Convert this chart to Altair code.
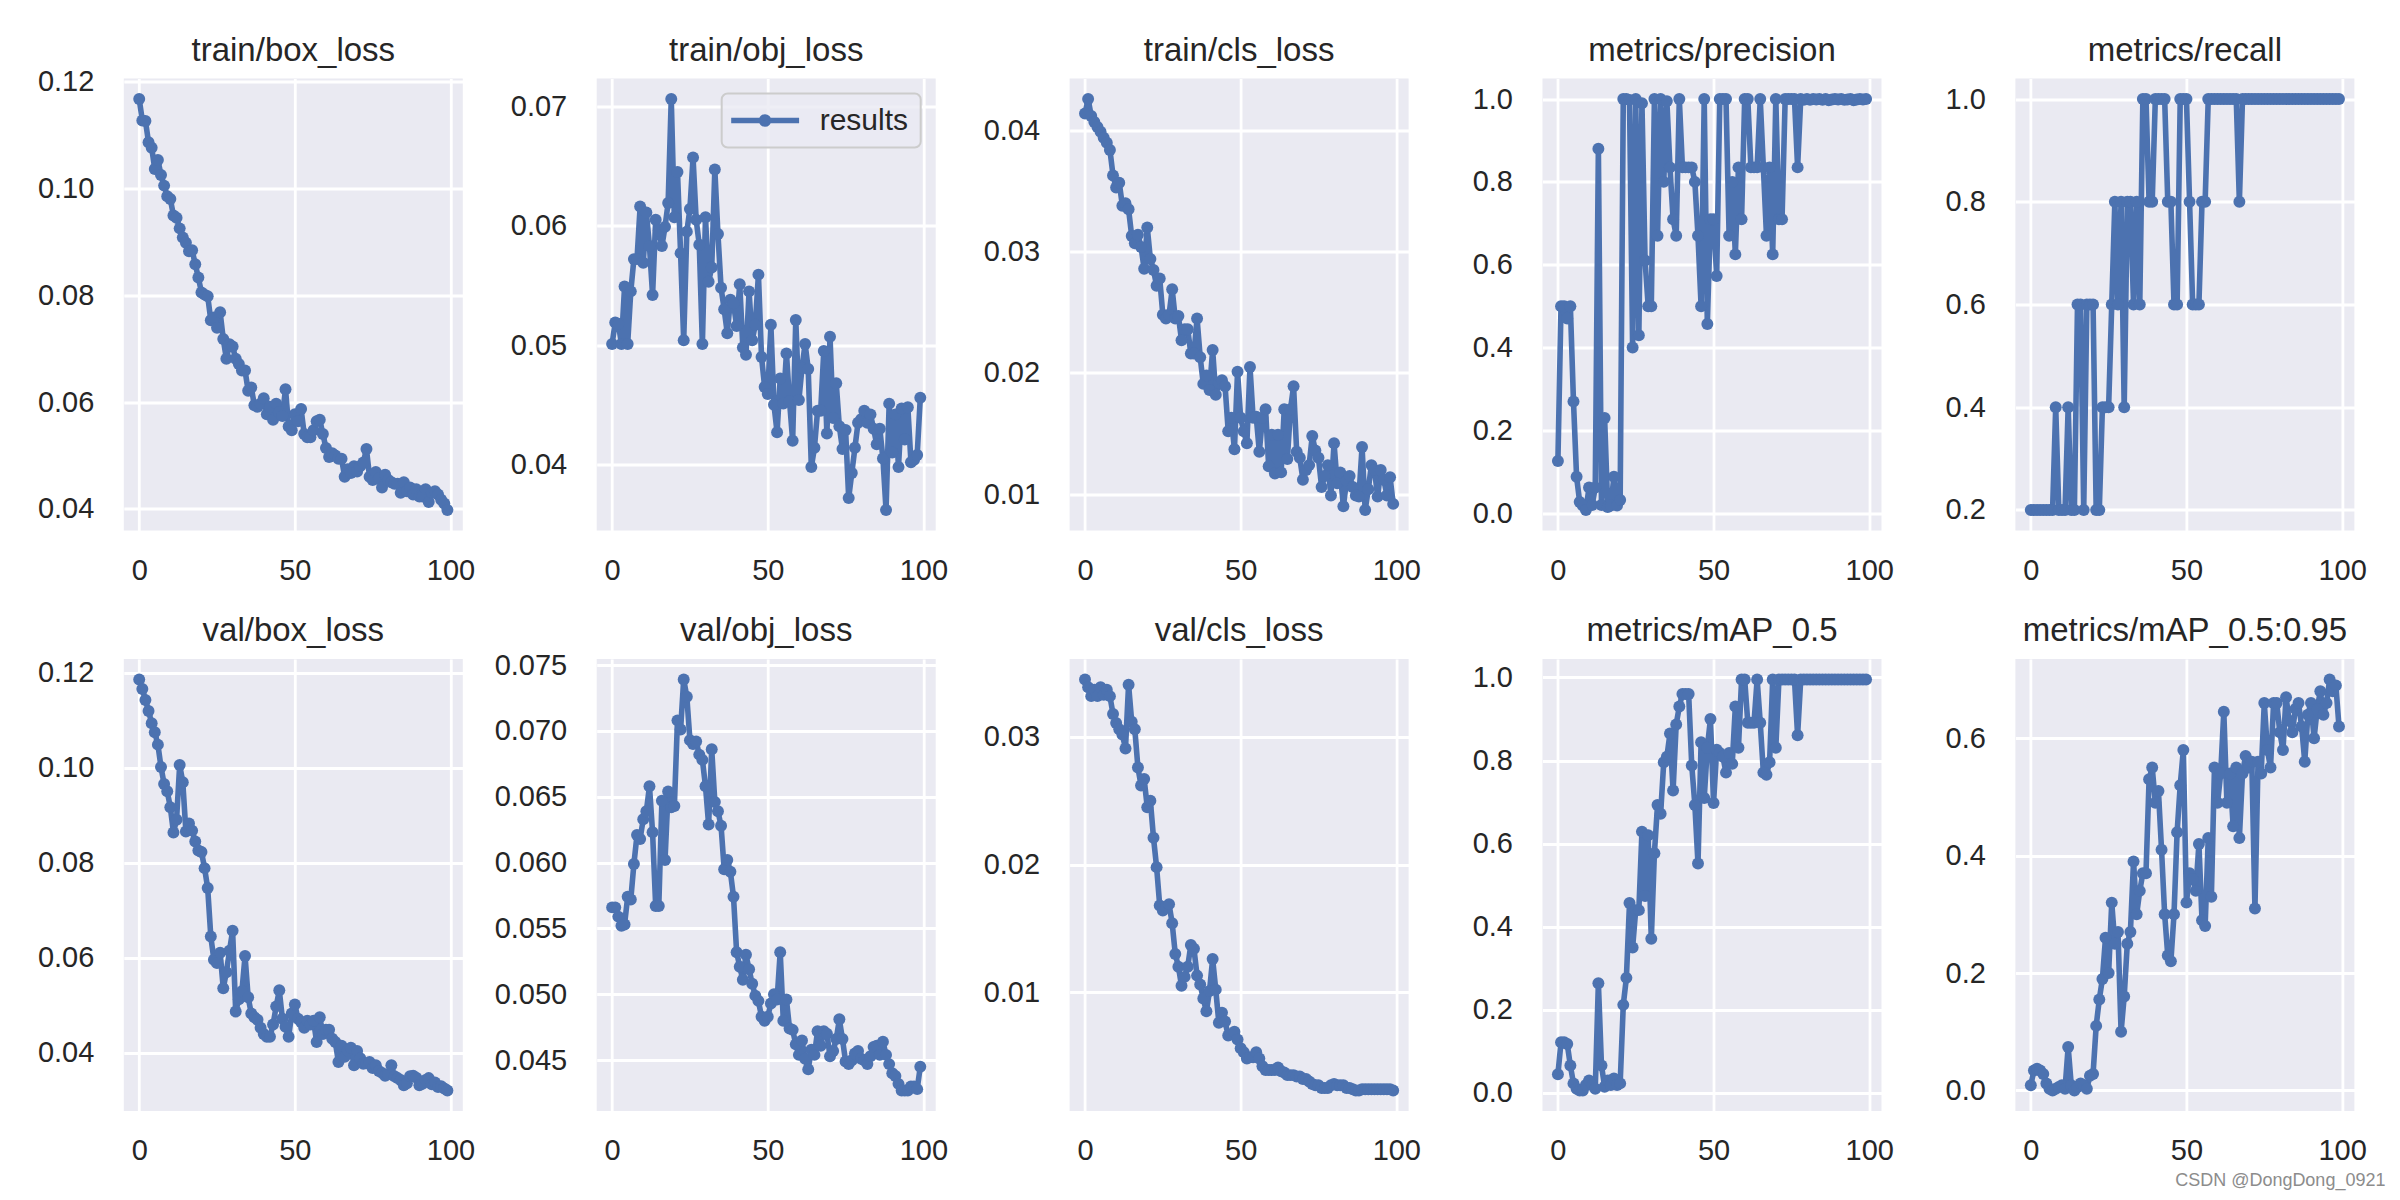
import altair as alt
import pandas as pd

BLUE = "#4C72B0"
BG = "#EAEAF2"
TEXT = "#262626"
FONT = "Liberation Sans"

PANEL_W = 339
PANEL_H = 452

titles = ["train/box_loss", "train/obj_loss", "train/cls_loss", "metrics/precision", "metrics/recall",
          "val/box_loss", "val/obj_loss", "val/cls_loss", "metrics/mAP_0.5", "metrics/mAP_0.5:0.95"]

train_box_loss = [
    0.1167, 0.1127, 0.1126, 0.1086, 0.1076, 0.1036, 0.1053, 0.1025, 0.1005, 0.0985,
    0.0980, 0.0949, 0.0945, 0.0925, 0.0908, 0.0898, 0.0882, 0.0884, 0.0858, 0.0833,
    0.0805, 0.0801, 0.0798, 0.0753, 0.0758, 0.0739, 0.0768, 0.0718, 0.0681, 0.0708,
    0.0704, 0.0681, 0.0671, 0.0659, 0.0659, 0.0621, 0.0627, 0.0594, 0.0591, 0.0597,
    0.0607, 0.0577, 0.0591, 0.0567, 0.0597, 0.0581, 0.0574, 0.0624, 0.0554, 0.0547,
    0.0577, 0.0564, 0.0587, 0.0540, 0.0534, 0.0534, 0.0547, 0.0564, 0.0567, 0.0540,
    0.0514, 0.0497, 0.0504, 0.0500, 0.0494, 0.0494, 0.0460, 0.0474, 0.0467, 0.0480,
    0.0470, 0.0480, 0.0487, 0.0512, 0.0460, 0.0454, 0.0469, 0.0457, 0.0440, 0.0464,
    0.0454, 0.0450, 0.0447, 0.0447, 0.0430, 0.0450, 0.0433, 0.0440, 0.0427, 0.0437,
    0.0423, 0.0423, 0.0437, 0.0413, 0.0430, 0.0433, 0.0427, 0.0417, 0.0410, 0.0398]

train_obj_loss = [
    0.0501, 0.0519, 0.0518, 0.0501, 0.0549, 0.0501, 0.0545, 0.0572, 0.0572, 0.0616,
    0.0569, 0.0611, 0.0583, 0.0542, 0.0605, 0.0596, 0.0583, 0.0599, 0.0619, 0.0706,
    0.0607, 0.0645, 0.0577, 0.0504, 0.0595, 0.0614, 0.0657, 0.0605, 0.0584, 0.0501,
    0.0607, 0.0553, 0.0565, 0.0647, 0.0593, 0.0548, 0.0530, 0.0510, 0.0538, 0.0535,
    0.0516, 0.0551, 0.0498, 0.0492, 0.0545, 0.0504, 0.0517, 0.0559, 0.0490, 0.0465,
    0.0459, 0.0517, 0.0450, 0.0427, 0.0472, 0.0451, 0.0493, 0.0453, 0.0420, 0.0521,
    0.0454, 0.0481, 0.0501, 0.0480, 0.0398, 0.0414, 0.0445, 0.0445, 0.0495, 0.0426,
    0.0507, 0.0439, 0.0468, 0.0432, 0.0413, 0.0429, 0.0372, 0.0393, 0.0414, 0.0435,
    0.0438, 0.0445, 0.0435, 0.0442, 0.0430, 0.0417, 0.0430, 0.0405, 0.0362, 0.0451,
    0.0410, 0.0442, 0.0398, 0.0447, 0.0421, 0.0448, 0.0402, 0.0404, 0.0408, 0.0456]

train_cls_loss = [
    0.0414, 0.0426, 0.0412, 0.0407, 0.0403, 0.0399, 0.0394, 0.0390, 0.0384, 0.0363,
    0.0353, 0.0357, 0.0338, 0.0340, 0.0335, 0.0313, 0.0307, 0.0314, 0.0304, 0.0286,
    0.0320, 0.0294, 0.0285, 0.0272, 0.0278, 0.0248, 0.0245, 0.0248, 0.0269, 0.0245,
    0.0247, 0.0227, 0.0236, 0.0236, 0.0216, 0.0216, 0.0245, 0.0213, 0.0191, 0.0198,
    0.0186, 0.0219, 0.0182, 0.0192, 0.0194, 0.0189, 0.0152, 0.0163, 0.0137, 0.0201,
    0.0163, 0.0152, 0.0142, 0.0205, 0.0163, 0.0164, 0.0135, 0.0163, 0.0170, 0.0123,
    0.0149, 0.0117, 0.0149, 0.0118, 0.0170, 0.0129, 0.0170, 0.0189, 0.0135, 0.0130,
    0.0112, 0.0120, 0.0124, 0.0148, 0.0136, 0.0130, 0.0106, 0.0115, 0.0124, 0.0099,
    0.0142, 0.0109, 0.0118, 0.0090, 0.0111, 0.0115, 0.0106, 0.0099, 0.0098, 0.0139,
    0.0087, 0.0104, 0.0124, 0.0120, 0.0098, 0.0120, 0.0112, 0.0099, 0.0114, 0.0092]

precision = [
    0.126, 0.50, 0.50, 0.47, 0.50, 0.27, 0.088, 0.027, 0.019, 0.008,
    0.062, 0.020, 0.062, 0.88, 0.020, 0.23, 0.015, 0.019, 0.088, 0.019,
    0.032, 1.0, 1.0, 0.998, 0.40, 1.0, 0.43, 0.99, 0.61, 0.50,
    0.50, 1.0, 0.67, 1.0, 0.80, 0.995, 0.835, 0.71, 0.67, 1.0,
    0.835, 0.835, 0.835, 0.835, 0.80, 0.67, 0.50, 1.0, 0.457, 0.71,
    0.71, 0.573, 1.0, 1.0, 1.0, 0.67, 0.80, 0.625, 0.835, 0.71,
    1.0, 1.0, 0.835, 0.835, 0.835, 1.0, 0.835, 0.67, 0.835, 0.625,
    1.0, 0.71, 0.71, 1.0, 1.0, 1.0, 1.0, 0.835, 1.0, 0.998,
    1.0, 0.998, 1.0, 0.999, 1.0, 0.998, 1.0, 0.997, 0.999, 1.0,
    0.999, 1.0, 0.998, 0.999, 1.0, 0.997, 0.999, 1.0, 0.999, 1.0]

recall = [
    0.2, 0.2, 0.2, 0.2, 0.2, 0.2, 0.2, 0.2, 0.4, 0.2,
    0.2, 0.2, 0.4, 0.2, 0.2, 0.6, 0.6, 0.2, 0.6, 0.6,
    0.6, 0.2, 0.2, 0.4, 0.4, 0.4, 0.6, 0.8, 0.6, 0.8,
    0.4, 0.8, 0.8, 0.6, 0.8, 0.6, 1.0, 1.0, 0.8, 0.8,
    1.0, 1.0, 1.0, 1.0, 0.8, 0.8, 0.6, 0.6, 1.0, 1.0,
    1.0, 0.8, 0.6, 0.6, 0.6, 0.8, 0.8, 1.0, 1.0, 1.0,
    1.0, 1.0, 1.0, 1.0, 1.0, 1.0, 1.0, 0.8, 1.0, 1.0,
    1.0, 1.0, 1.0, 1.0, 1.0, 1.0, 1.0, 1.0, 1.0, 1.0,
    1.0, 1.0, 1.0, 1.0, 1.0, 1.0, 1.0, 1.0, 1.0, 1.0,
    1.0, 1.0, 1.0, 1.0, 1.0, 1.0, 1.0, 1.0, 1.0, 1.0]

val_box_loss = [
    0.1186, 0.1166, 0.1143, 0.1120, 0.1094, 0.1075, 0.1049, 0.1002, 0.0966, 0.0951,
    0.0917, 0.0864, 0.0891, 0.1006, 0.0970, 0.0866, 0.0883, 0.0868, 0.0845, 0.0826,
    0.0823, 0.0789, 0.0747, 0.0645, 0.0596, 0.0589, 0.0611, 0.0536, 0.0570, 0.0615,
    0.0657, 0.0487, 0.0513, 0.0530, 0.0604, 0.0517, 0.0483, 0.0475, 0.0470, 0.0453,
    0.0440, 0.0434, 0.0434, 0.0460, 0.0498, 0.0532, 0.0472, 0.0455, 0.0434, 0.0483,
    0.0502, 0.0472, 0.0465, 0.0453, 0.0468, 0.0460, 0.0468, 0.0423, 0.0475, 0.0440,
    0.0449, 0.0449, 0.0430, 0.0423, 0.0381, 0.0415, 0.0392, 0.0405, 0.0411, 0.0374,
    0.0404, 0.0389, 0.0377, 0.0378, 0.0381, 0.0368, 0.0374, 0.0362, 0.0358, 0.0352,
    0.0355, 0.0374, 0.0351, 0.0347, 0.0343, 0.0332, 0.0336, 0.0351, 0.0352, 0.0348,
    0.0332, 0.0335, 0.0343, 0.0347, 0.0334, 0.0338, 0.0328, 0.0330, 0.0325, 0.0321]

val_obj_loss = [
    0.0566, 0.0566, 0.0559, 0.0552, 0.0553, 0.0574, 0.0572, 0.0599, 0.0621, 0.0618,
    0.0633, 0.0639, 0.0658, 0.0623, 0.0567, 0.0567, 0.0647, 0.0602, 0.0654, 0.0642,
    0.0643, 0.0708, 0.0701, 0.0739, 0.0726, 0.0693, 0.0690, 0.0692, 0.0682, 0.0678,
    0.0658, 0.0629, 0.0686, 0.0646, 0.0639, 0.0628, 0.0595, 0.0602, 0.0593, 0.0574,
    0.0532, 0.0521, 0.0511, 0.0530, 0.0519, 0.0508, 0.0499, 0.0495, 0.0483, 0.0480,
    0.0483, 0.0493, 0.0500, 0.0496, 0.0532, 0.0480, 0.0496, 0.0474, 0.0473, 0.0462,
    0.0454, 0.0465, 0.0451, 0.0443, 0.0458, 0.0454, 0.0472, 0.0461, 0.0472, 0.0470,
    0.0453, 0.0457, 0.0466, 0.0481, 0.0466, 0.0449, 0.0447, 0.0450, 0.0455, 0.0457,
    0.0451, 0.0450, 0.0447, 0.0453, 0.0460, 0.0461, 0.0454, 0.0464, 0.0454, 0.0447,
    0.0440, 0.0438, 0.0432, 0.0427, 0.0427, 0.0427, 0.0430, 0.0430, 0.0428, 0.0445]

val_cls_loss = [
    0.0345, 0.0339, 0.0332, 0.0337, 0.0332, 0.0339, 0.0333, 0.0337, 0.0332, 0.0318,
    0.0311, 0.0306, 0.0302, 0.0291, 0.0341, 0.0312, 0.0306, 0.0276, 0.0262, 0.0267,
    0.0245, 0.0250, 0.0221, 0.0198, 0.0168, 0.0164, 0.0167, 0.0169, 0.0154, 0.0130,
    0.0120, 0.0105, 0.0112, 0.0120, 0.0137, 0.0134, 0.0113, 0.0106, 0.0095, 0.0085,
    0.0101, 0.0126, 0.0102, 0.0076, 0.0084, 0.0077, 0.0066, 0.0067, 0.0069, 0.0063,
    0.0056, 0.0053, 0.0048, 0.0049, 0.0049, 0.0053, 0.0048, 0.0042, 0.0039, 0.0039,
    0.0039, 0.0039, 0.0041, 0.0038, 0.0037, 0.0035, 0.0035, 0.0035, 0.0034, 0.0034,
    0.0032, 0.0032, 0.0030, 0.0028, 0.0027, 0.0027, 0.0025, 0.0025, 0.0025, 0.0027,
    0.0028, 0.0027, 0.0027, 0.0027, 0.0025, 0.0025, 0.0024, 0.0023, 0.0023, 0.0024,
    0.0024, 0.0024, 0.0024, 0.0024, 0.0024, 0.0024, 0.0024, 0.0024, 0.0024, 0.0023]

map_05 = [
    0.045, 0.122, 0.122, 0.118, 0.066, 0.023, 0.010, 0.006, 0.006, 0.019,
    0.030, 0.019, 0.010, 0.264, 0.066, 0.015, 0.030, 0.019, 0.035, 0.019,
    0.023, 0.212, 0.277, 0.457, 0.350, 0.440, 0.440, 0.629, 0.474, 0.620,
    0.371, 0.577, 0.693, 0.672, 0.796, 0.809, 0.865, 0.728, 0.887, 0.930,
    0.960, 0.960, 0.960, 0.788, 0.693, 0.552, 0.844, 0.710, 0.831, 0.900,
    0.698, 0.826, 0.818, 0.809, 0.771, 0.818, 0.792, 0.930, 0.831, 0.995,
    0.995, 0.891, 0.891, 0.891, 0.995, 0.891, 0.771, 0.766, 0.796, 0.995,
    0.831, 0.995, 0.995, 0.995, 0.995, 0.995, 0.995, 0.861, 0.995, 0.995,
    0.995, 0.995, 0.995, 0.995, 0.995, 0.995, 0.995, 0.995, 0.995, 0.995,
    0.995, 0.995, 0.995, 0.995, 0.995, 0.995, 0.995, 0.995, 0.995, 0.995]

map_05_095 = [
    0.009, 0.034, 0.037, 0.034, 0.028, 0.012, 0.003, 0.000, 0.003, 0.006,
    0.009, 0.003, 0.074, 0.009, 0.000, 0.006, 0.012, 0.009, 0.003, 0.025,
    0.028, 0.110, 0.155, 0.190, 0.260, 0.200, 0.320, 0.250, 0.270, 0.100,
    0.160, 0.250, 0.270, 0.390, 0.300, 0.340, 0.370, 0.370, 0.530, 0.550,
    0.490, 0.510, 0.410, 0.300, 0.230, 0.220, 0.300, 0.440, 0.520, 0.580,
    0.320, 0.370, 0.360, 0.340, 0.420, 0.290, 0.280, 0.430, 0.330, 0.550,
    0.490, 0.540, 0.645, 0.490, 0.540, 0.450, 0.550, 0.430, 0.540, 0.570,
    0.550, 0.560, 0.310, 0.560, 0.540, 0.660, 0.580, 0.550, 0.660, 0.660,
    0.610, 0.580, 0.670, 0.630, 0.610, 0.650, 0.660, 0.620, 0.560, 0.640,
    0.660, 0.600, 0.650, 0.680, 0.640, 0.660, 0.700, 0.680, 0.690, 0.620]

series_values = [train_box_loss, train_obj_loss, train_cls_loss, precision, recall,
                 val_box_loss, val_obj_loss, val_cls_loss, map_05, map_05_095]

x_ticks = [0, 50, 100]
y_ticks = [
    [0.04, 0.06, 0.08, 0.10, 0.12],
    [0.04, 0.05, 0.06, 0.07],
    [0.01, 0.02, 0.03, 0.04],
    [0.0, 0.2, 0.4, 0.6, 0.8, 1.0],
    [0.2, 0.4, 0.6, 0.8, 1.0],
    [0.04, 0.06, 0.08, 0.10, 0.12],
    [0.045, 0.050, 0.055, 0.060, 0.065, 0.070, 0.075],
    [0.01, 0.02, 0.03],
    [0.0, 0.2, 0.4, 0.6, 0.8, 1.0],
    [0.0, 0.2, 0.4, 0.6],
]
y_formats = [".2f", ".2f", ".2f", ".1f", ".1f", ".2f", ".3f", ".2f", ".1f", ".1f"]

legend_label = "results"
watermark = "CSDN @DongDong_0921"

# line with a dot in the middle, drawn as a custom legend symbol
LEGEND_SYMBOL = ("M -2.5 0 L 7.2 0 "
                 "M 1.83 0 A 0.5 0.5 0 1 0 2.83 0 A 0.5 0.5 0 1 0 1.83 0 Z")


def make_panel(idx):
    vals = series_values[idx]
    n = len(vals)
    df = pd.DataFrame({"epoch": list(range(n)), "value": vals, "series": [legend_label] * n})
    lo, hi = min(vals), max(vals)
    ypad = 0.05 * (hi - lo)
    xpad = 0.05 * (n - 1)
    x = alt.X("epoch:Q", title=None,
              scale=alt.Scale(domain=[-xpad, n - 1 + xpad], nice=False, zero=False),
              axis=alt.Axis(values=x_ticks, format="d"))
    y = alt.Y("value:Q", title=None,
              scale=alt.Scale(domain=[lo - ypad, hi + ypad], nice=False, zero=False),
              axis=alt.Axis(values=y_ticks[idx], format=y_formats[idx]))
    base = alt.Chart(df)
    if idx == 1:
        color = alt.Color("series:N", scale=alt.Scale(range=[BLUE]),
                          legend=alt.Legend(title=None, orient="top-right", offset=15,
                                            padding=12, cornerRadius=6,
                                            fillColor="rgba(234,234,242,0.8)",
                                            strokeColor="#CCCCCC",
                                            symbolType=LEGEND_SYMBOL, symbolSize=196,
                                            symbolStrokeWidth=5.6,
                                            symbolStrokeColor=BLUE, symbolFillColor=BLUE,
                                            symbolOpacity=1,
                                            labelOffset=56, labelFontSize=30,
                                            labelFont=FONT, labelColor=TEXT))
    else:
        color = alt.value(BLUE)
    line = base.mark_line(strokeWidth=5.6, strokeJoin="round", strokeCap="square").encode(
        x=x, y=y, color=color)
    pts = base.mark_circle(size=143, opacity=1, color=BLUE).encode(x=x, y=y)
    # panel title as a fixed text above the plot area (centred, like matplotlib)
    ttl = alt.Chart(pd.DataFrame({"t": [titles[idx]]})).mark_text(
        align="center", baseline="alphabetic", fontSize=33, font=FONT, color=TEXT
    ).encode(x=alt.value(PANEL_W / 2), y=alt.value(-18), text="t:N")
    layers = [line, pts, ttl]
    if idx == 9:
        wm = alt.Chart(pd.DataFrame({"t": [watermark]})).mark_text(
            align="right", baseline="middle", fontSize=18, font=FONT, color="#8C8C8C"
        ).encode(x=alt.value(370), y=alt.value(522), text="t:N")
        layers.append(wm)
    return alt.layer(*layers).properties(width=PANEL_W, height=PANEL_H)


panels = [make_panel(i) for i in range(10)]

chart = alt.concat(*panels, columns=5, spacing={"row": 128.5, "column": 133.9},
                   bounds="flush").resolve_scale(
    color="independent").resolve_legend(color="independent").properties(
    padding={"left": 28.8, "top": 26.5, "right": 0, "bottom": 0}
).configure_view(fill=BG, strokeWidth=0).configure_axis(
    domain=False, ticks=False, tickSize=0, grid=True, gridColor="white", gridWidth=2.8,
    gridOpacity=1, labelFont=FONT, labelFontSize=29, labelColor=TEXT,
    labelFlush=False, labelOverlap=False
).configure_axisX(labelPadding=26).configure_axisY(labelPadding=30).configure_legend(
    strokeWidth=2)

chart.save("out.html", embed_options={"renderer": "svg", "actions": False})
